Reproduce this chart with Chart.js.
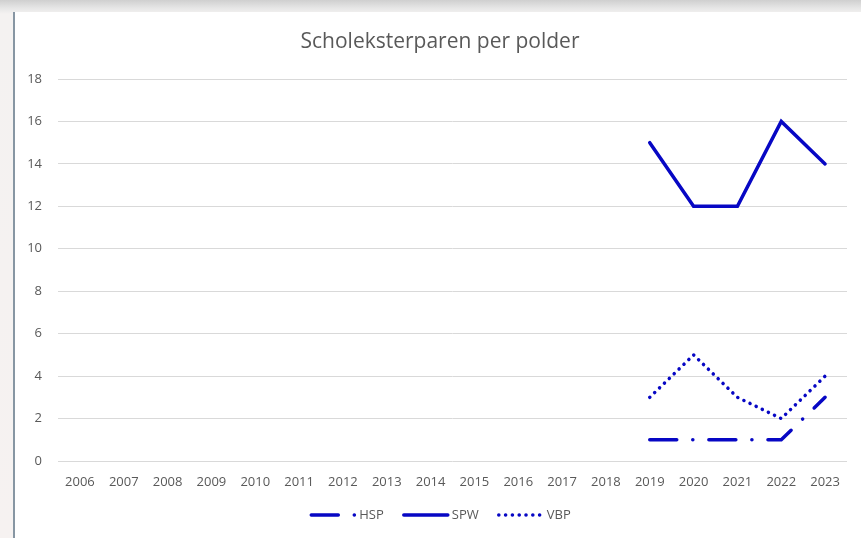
<!DOCTYPE html>
<html>
<head>
<meta charset="utf-8">
<script src="https://cdn.jsdelivr.net/npm/chart.js@4.4.1/dist/chart.umd.min.js"></script>
<style>
  html, body { margin: 0; padding: 0; }
  body {
    width: 861px; height: 538px; overflow: hidden;
    background: linear-gradient(to bottom, #cfcfcf 0px, #e6e6e6 8px, #f4f2f1 14px, #f6f2f1 100%);
    position: relative;
  }
  #frame {
    position: absolute; left: 13px; top: 12px; width: 848px; height: 526px;
    background: #ffffff; border-left: 2px solid #8796a3;
  }
  #wrap { position: absolute; left: 0; top: 0; width: 846px; height: 526px; }
</style>
</head>
<body>
<div id="frame"><div id="wrap"><canvas id="chart"></canvas></div></div>
<script>
const years = ['2006', '2007', '2008', '2009', '2010', '2011', '2012', '2013', '2014',
    '2015', '2016', '2017', '2018', '2019', '2020', '2021', '2022', '2023'];

// 2006-2018 geen tellingen
const hsp = [null, null, null, null, null, null, null, null, null, null, null, null, null, 1, 1, 1, 1, 3];
const spw = [null, null, null, null, null, null, null, null, null, null, null, null, null, 15, 12, 12, 16, 14];
const vbp = [null, null, null, null, null, null, null, null, null, null, null, null, null, 3, 5, 3, 2, 4];

const yTicks = [0, 2, 4, 6, 8, 10, 12, 14, 16, 18];
const titleText = 'Scholeksterparen per polder';

const blue = '#0707c4';
const grey = '#595959';
const font = 'Open Sans';

// titel en legenda zelf tekenen (titel iets rechts van het midden, legenda met streepjes)
const titleAndLegend = {
    id: 'titleAndLegend',
    afterDraw(chart) {
        const c = chart.ctx;
        c.save();
        c.font = '21px "' + font + '"';
        c.fillStyle = grey;
        c.textAlign = 'center';
        c.textBaseline = 'middle';
        c.fillText(titleText, 425, 30);

        const sampleW = 47;
        const gap = 3;
        const itemGap = 18;
        c.font = '13px "' + font + '"';
        c.textAlign = 'left';
        const sets = chart.data.datasets;
        const widths = sets.map(ds => sampleW + gap + c.measureText(ds.label).width);
        const total = widths.reduce((a, b) => a + b, 0) + itemGap * (sets.length - 1);
        let x = (chart.width - total) / 2 + 2;
        const y = chart.height - 23;
        sets.forEach((ds, i) => {
            c.strokeStyle = ds.borderColor;
            c.lineWidth = ds.borderWidth;
            c.lineCap = ds.borderCapStyle || 'butt';
            c.setLineDash(ds.borderDash || []);
            c.beginPath();
            c.moveTo(x + 2, y);
            c.lineTo(x + sampleW - 1, y);
            c.stroke();
            c.fillStyle = grey;
            c.fillText(ds.label, x + sampleW + gap, y);
            x += widths[i] + itemGap;
        });
        c.restore();
    }
};

const ctx = document.getElementById('chart').getContext('2d');

new Chart(ctx, {
    type: 'line',
    data: {
        labels: years,
        datasets: [
            {
                label: 'HSP',
                data: hsp,
                borderColor: blue,
                backgroundColor: blue,
                borderWidth: 3.5,
                borderDash: [27, 16, 0.1, 16],
                borderCapStyle: 'round',
                pointRadius: 0,
                tension: 0,
            },
            {
                label: 'SPW',
                data: spw,
                borderColor: blue,
                backgroundColor: blue,
                borderWidth: 3.5,
                borderCapStyle: 'round',
                pointRadius: 0,
                tension: 0,
            },
            {
                label: 'VBP',
                data: vbp,
                borderColor: blue,
                backgroundColor: blue,
                borderWidth: 3.5,
                borderDash: [0.1, 6.7],
                borderCapStyle: 'round',
                pointRadius: 0,
                tension: 0,
            },
        ],
    },
    options: {
        responsive: true,
        maintainAspectRatio: false,
        animation: false,
        layout: {
            padding: { left: 0, right: 14, top: 67, bottom: 41 }
        },
        plugins: {
            title: { display: false },
            legend: { display: false },
            tooltip: { enabled: false }
        },
        scales: {
            x: {
                offset: true,
                grid: { display: false, drawTicks: false },
                border: { display: false },
                ticks: {
                    color: grey,
                    font: { family: font, size: 13 },
                    padding: 13,
                    maxRotation: 0,
                    autoSkip: false
                },
                afterFit: function (scale) { scale.height = 36; }
            },
            y: {
                min: 0,
                max: 18,
                afterBuildTicks: function (scale) {
                    scale.ticks = yTicks.map(v => ({ value: v }));
                },
                grid: { color: '#d9d9d9', drawTicks: false },
                border: { display: false },
                ticks: {
                    color: grey,
                    font: { family: font, size: 13 },
                    padding: 16
                },
                afterFit: function (scale) { scale.width = 43; }
            }
        }
    },
    plugins: [titleAndLegend]
});
</script>
</body>
</html>
